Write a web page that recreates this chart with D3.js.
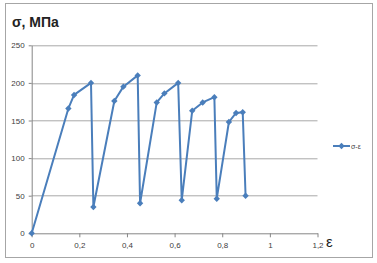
<!DOCTYPE html>
<html>
<head>
<meta charset="utf-8">
<script src="https://cdn.jsdelivr.net/npm/d3@7"></script>
<style>
  body { margin: 0; background: #fff; }
  svg { display: block; }
</style>
</head>
<body>
<div id="chart"></div>
<script>
// data
const eps = [0, 0.154, 0.178, 0.249, 0.259, 0.347, 0.385, 0.445, 0.455, 0.525, 0.557,
  0.615, 0.630, 0.674, 0.718, 0.767, 0.777, 0.828, 0.858, 0.886, 0.898];
const sigma = [0, 166, 184, 200, 35, 176, 195, 210, 40, 174, 186,
  200, 44, 163, 174, 181, 46, 148, 160, 161, 50];
const xTicks = [0, 0.2, 0.4, 0.6, 0.8, 1, 1.2];
const yTicks = [0, 50, 100, 150, 200, 250];
const seriesName = "σ-ε";

const w = 377, h = 263;
const margin = { left: 31.7, right: 59.5, top: 45.3, bottom: 29.7 };
const gw = w - margin.left - margin.right;
const gh = h - margin.top - margin.bottom;
const blue = "#4a7ebb";
const font = "'Liberation Sans', Arial, sans-serif";

const svg = d3.select("#chart")
  .append("svg")
  .attr("width", w)
  .attr("height", h);

// chart frame
svg.append("rect")
  .attr("x", 5.5).attr("y", 3.5)
  .attr("width", 367).attr("height", 254)
  .attr("fill", "#fff")
  .attr("stroke", "#a6a6a6");

const graph = svg.append("g")
  .attr("transform", `translate(${margin.left},${margin.top})`);

//scales
const xScale = d3.scaleLinear().domain([0, 1.2]).range([0, gw]);
const yScale = d3.scaleLinear().domain([0, 250]).range([gh, 0]);

// grid lines
graph.append("g")
  .attr("class", "grid")
  .selectAll("line")
  .data(yTicks.filter(d => d > 0))
  .enter()
  .append("line")
  .attr("x1", 0).attr("x2", gw)
  .attr("y1", d => Math.round(yScale(d)) + 0.5)
  .attr("y2", d => Math.round(yScale(d)) + 0.5)
  .attr("stroke", "#a8a8a8");

//axis
const yaxis = d3.axisLeft(yScale).tickValues(yTicks).tickSize(3).tickSizeOuter(0).tickPadding(4);
const xaxis = d3.axisBottom(xScale).tickValues(xTicks).tickSize(4).tickSizeOuter(0).tickPadding(5)
  .tickFormat(d => String(d).replace(".", ","));

const ygrp = graph.append("g").attr("class", "ygrp").call(yaxis);
const xgrp = graph.append("g").attr("class", "xgrp")
  .attr("transform", `translate(0,${gh})`).call(xaxis);

[ygrp, xgrp].forEach(g => {
  g.select(".domain").attr("stroke", "#868686");
  g.selectAll(".tick line").attr("stroke", "#868686");
  g.selectAll(".tick text")
    .attr("font-size", "8px")
    .attr("font-family", font)
    .attr("fill", "#404040");
});

// series line
const pts = eps.map((e, i) => [e, sigma[i]]);
const line = d3.line().x(d => xScale(d[0])).y(d => yScale(d[1]));
graph.append("path")
  .datum(pts)
  .attr("d", line)
  .attr("fill", "none")
  .attr("stroke", blue)
  .attr("stroke-width", 2)
  .attr("stroke-linejoin", "round");

// diamond markers
const diamond = d3.symbol().type(d3.symbolDiamond2).size(26);
graph.selectAll(".mk")
  .data(pts)
  .enter()
  .append("path")
  .attr("class", "mk")
  .attr("d", diamond)
  .attr("transform", d => `translate(${xScale(d[0])},${yScale(d[1])})`)
  .attr("fill", blue);

// title
svg.append("text")
  .text("σ, МПа")
  .attr("x", 12)
  .attr("y", 27)
  .attr("font-size", "14px")
  .attr("font-weight", "bold")
  .attr("font-family", font)
  .attr("fill", "#222");

// x label
svg.append("text")
  .text("ε")
  .attr("x", 326)
  .attr("y", 247)
  .attr("font-size", "15px")
  .attr("font-family", font)
  .attr("fill", "#222");

// legend
const leg = svg.append("g").attr("transform", "translate(333,146)");
leg.append("line")
  .attr("x1", 0).attr("x2", 17)
  .attr("stroke", blue).attr("stroke-width", 2);
leg.append("path")
  .attr("d", diamond)
  .attr("transform", "translate(8.5,0)")
  .attr("fill", blue);
leg.append("text")
  .text(seriesName)
  .attr("x", 18)
  .attr("y", 2.5)
  .attr("font-size", "7px")
  .attr("font-family", font)
  .attr("fill", "#404040");
</script>
</body>
</html>
